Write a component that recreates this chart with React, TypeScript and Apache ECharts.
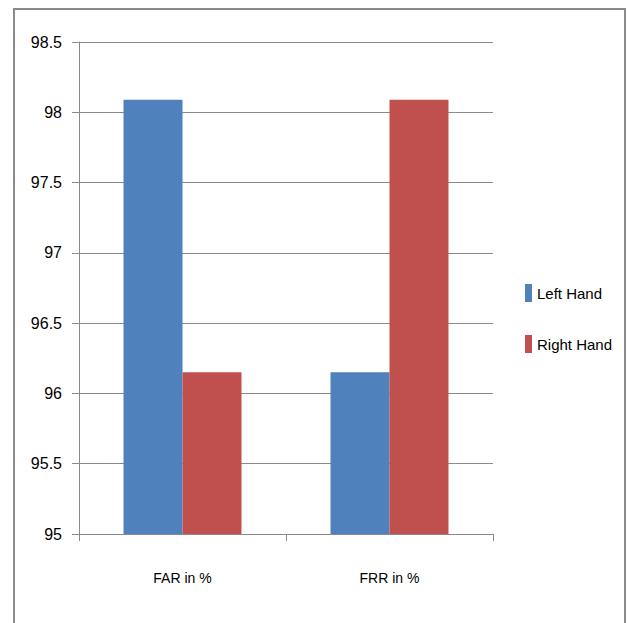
import React, { useEffect, useRef } from "react";
import * as echarts from "echarts";

const categories = ["FAR in %", "FRR in %"];
const leftHand = [98.09, 96.15];
const rightHand = [96.15, 98.09];
const seriesNames = ["Left Hand", "Right Hand"];
const yMin = 95;
const yMax = 98.5;
const yStep = 0.5;

const FONT = "'Liberation Sans Narrow', 'Liberation Sans', Arial, sans-serif";

export default function App() {
  const ref = useRef<HTMLDivElement>(null);
  useEffect(() => {
    if (!ref.current) return;
    const chart = echarts.init(ref.current, undefined, { renderer: "svg" });
    chart.setOption({
      animation: false,
      backgroundColor: "#ffffff",
      graphic: [
        {
          type: "rect",
          shape: { x: 14, y: 9, width: 611, height: 630 },
          style: { fill: "none", stroke: "#8a8a8a", lineWidth: 2 },
          silent: true,
          z: -1,
        },
      ],
      grid: { left: 79, right: 134, top: 42, bottom: 89, containLabel: false },
      legend: {
        orient: "vertical",
        left: 520,
        top: 279,
        itemWidth: 7,
        itemHeight: 18,
        itemGap: 33,
        icon: "rect",
        textStyle: { fontFamily: FONT, fontSize: 15, color: "#000" },
        data: seriesNames,
      },
      xAxis: {
        type: "category",
        data: categories,
        axisLine: { lineStyle: { color: "#8a8a8a", width: 1 } },
        axisTick: { show: true, length: 7, lineStyle: { color: "#8a8a8a" } },
        axisLabel: { fontFamily: FONT, fontSize: 14, color: "#000", margin: 37 },
      },
      yAxis: {
        type: "value",
        min: yMin,
        max: yMax,
        interval: yStep,
        axisLine: { show: true, lineStyle: { color: "#8a8a8a", width: 1 } },
        axisTick: { show: true, length: 7, lineStyle: { color: "#8a8a8a" } },
        axisLabel: { fontFamily: FONT, fontSize: 16, color: "#000", margin: 17 },
        splitLine: { show: true, lineStyle: { color: "#8a8a8a", width: 1 } },
      },
      series: [
        {
          name: seriesNames[0],
          type: "bar",
          data: leftHand,
          itemStyle: { color: "#4F81BD" },
          barGap: "0%",
          barCategoryGap: "43%",
        },
        {
          name: seriesNames[1],
          type: "bar",
          data: rightHand,
          itemStyle: { color: "#C0504D" },
          barGap: "0%",
          barCategoryGap: "43%",
        },
      ],
    });
    return () => chart.dispose();
  }, []);
  return (
    <div
      ref={ref}
      style={{ position: "fixed", left: 0, top: 0, width: 627, height: 623 }}
    />
  );
}
